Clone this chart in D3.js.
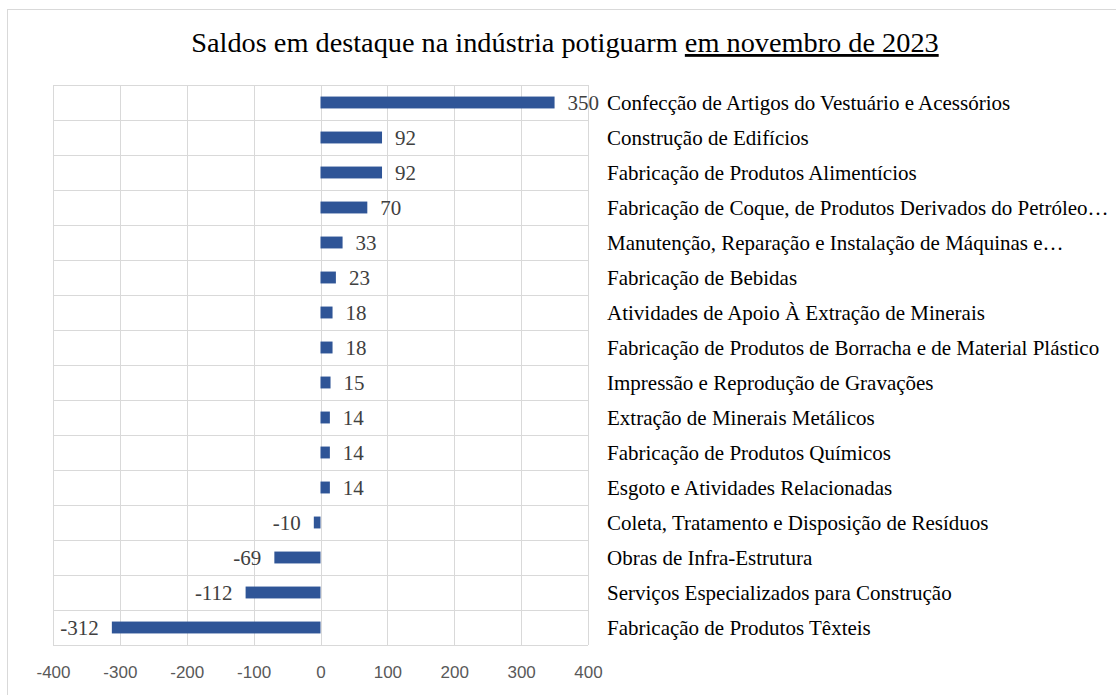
<!DOCTYPE html>
<html>
<head>
  <meta charset="utf-8">
  <title>Saldos em destaque</title>
  <style>
    body { margin: 0; background: #fff; }
  </style>
</head>
<body>
  <svg width="1116" height="695"></svg>

  <script src="https://cdnjs.cloudflare.com/ajax/libs/d3/7.8.5/d3.min.js"></script>
  <script>

  var categories = [
    "Confecção de Artigos do Vestuário e Acessórios",
    "Construção de Edifícios",
    "Fabricação de Produtos Alimentícios",
    "Fabricação de Coque, de Produtos Derivados do Petróleo…",
    "Manutenção, Reparação e Instalação de Máquinas e…",
    "Fabricação de Bebidas",
    "Atividades de Apoio À Extração de Minerais",
    "Fabricação de Produtos de Borracha e de Material Plástico",
    "Impressão e Reprodução de Gravações",
    "Extração de Minerais Metálicos",
    "Fabricação de Produtos Químicos",
    "Esgoto e Atividades Relacionadas",
    "Coleta, Tratamento e Disposição de Resíduos",
    "Obras de Infra-Estrutura",
    "Serviços Especializados para Construção",
    "Fabricação de Produtos Têxteis"
  ];
  var saldos = [350, 92, 92, 70, 33, 23, 18, 18, 15, 14, 14, 14, -10, -69, -112, -312];
  var xTicks = [-400, -300, -200, -100, 0, 100, 200, 300, 400];

  var svg = d3.select("svg"),
      margin = {top: 85, left: 53, right: 528, bottom: 50},
      width = 1116 - margin.left - margin.right,
      height = 695 - margin.top - margin.bottom;

  // outer chart frame
  svg.append("rect")
      .attr("x", 7.5).attr("y", 9.5)
      .attr("width", 1120).attr("height", 700)
      .attr("fill", "none").attr("stroke", "#d9d9d9");

  // title
  var title = svg.append("text")
      .attr("x", 565).attr("y", 52)
      .attr("text-anchor", "middle")
      .attr("font-family", "Liberation Serif, Times New Roman, serif")
      .attr("font-size", 28.3)
      .attr("fill", "#000");
  title.append("tspan").text("Saldos em destaque na indústria potiguarm ");
  title.append("tspan").attr("text-decoration", "underline").text("em novembro de 2023");

  var x = d3.scaleLinear().domain([-400, 400]).range([0, width]);
  var y = d3.scaleBand().domain(categories).range([0, height]).paddingInner(0.66).paddingOuter(0.33);
  var rows = d3.scaleBand().domain(categories).range([0, height]);

  var g = svg.append("g").attr("transform", "translate(" + margin.left + "," + margin.top + ")");

  // vertical gridlines
  g.selectAll(".vgrid").data(xTicks).enter().append("line")
      .attr("x1", function(d) { return Math.round(x(d)) + 0.5; })
      .attr("x2", function(d) { return Math.round(x(d)) + 0.5; })
      .attr("y1", 0).attr("y2", height)
      .attr("stroke", "#d9d9d9");

  // horizontal row lines
  g.selectAll(".hgrid").data(categories.concat([null])).enter().append("line")
      .attr("x1", 0).attr("x2", width)
      .attr("y1", function(d, i) { return Math.round(i * rows.step()) + 0.5; })
      .attr("y2", function(d, i) { return Math.round(i * rows.step()) + 0.5; })
      .attr("stroke", "#d9d9d9");

  var data = categories.map(function(c, i) { return {cat: c, v: saldos[i]}; });

  g.selectAll(".bar").data(data).enter().append("rect")
      .attr("x", function(d) { return x(Math.min(0, d.v)); })
      .attr("y", function(d) { return y(d.cat); })
      .attr("width", function(d) { return Math.abs(x(d.v) - x(0)); })
      .attr("height", y.bandwidth())
      .attr("fill", "#2f5597");

  // value labels
  g.selectAll(".val").data(data).enter().append("text")
      .attr("x", function(d) { return d.v >= 0 ? x(d.v) + 13 : x(d.v) - 13; })
      .attr("y", function(d) { return rows(d.cat) + rows.bandwidth() / 2; })
      .attr("dy", "0.35em")
      .attr("text-anchor", function(d) { return d.v >= 0 ? "start" : "end"; })
      .attr("font-family", "Liberation Serif, Times New Roman, serif")
      .attr("font-size", 21)
      .attr("fill", "#404040")
      .text(function(d) { return d.v; });

  // category labels on the right
  g.selectAll(".cat").data(categories).enter().append("text")
      .attr("x", 607 - margin.left)
      .attr("y", function(d) { return rows(d) + rows.bandwidth() / 2; })
      .attr("dy", "0.35em")
      .attr("font-family", "Liberation Serif, Times New Roman, serif")
      .attr("font-size", 21)
      .attr("fill", "#000")
      .text(function(d) { return d; });

  // x axis tick labels
  var xAxis = d3.axisBottom(x).tickValues(xTicks).tickSize(0).tickPadding(21)
      .tickFormat(function(d) { return String(d); });
  var ax = g.append("g").attr("transform", "translate(0," + height + ")").call(xAxis);
  ax.select(".domain").remove();
  ax.selectAll("text")
      .attr("font-family", "Liberation Sans, Arial, sans-serif")
      .attr("font-size", 17)
      .attr("fill", "#595959");

  </script>
</body>
</html>
